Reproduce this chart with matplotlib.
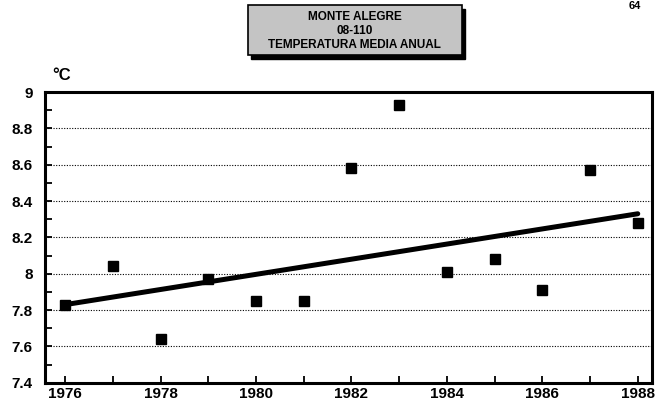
import matplotlib
matplotlib.use("Agg")
import matplotlib.pyplot as plt
from matplotlib.patches import Rectangle
from matplotlib.ticker import MultipleLocator, FormatStrFormatter

# data
years = [1976, 1977, 1978, 1979, 1980, 1981, 1982, 1983, 1984, 1985, 1986, 1987, 1988]
temps = [7.83, 8.04, 7.64, 7.97, 7.85, 7.85, 8.58, 8.93, 8.01, 8.08, 7.91, 8.57, 8.28]
trend_years = [1976, 1988]
trend_temps = [7.83, 8.33]
title_lines = ["MONTE ALEGRE", "08-110", "TEMPERATURA MEDIA ANUAL"]
xticks = [1976, 1978, 1980, 1982, 1984, 1986, 1988]
yticks = [7.4, 7.6, 7.8, 8.0, 8.2, 8.4, 8.6, 8.8, 9.0]

plt.rcParams['font.family'] = ['Liberation Sans', 'DejaVu Sans']

fig = plt.figure(figsize=(6.57, 4.0), dpi=100)
ax = fig.add_axes([0.0685, 0.043, 0.924, 0.727])

# dotted grid at the major y values
for v in yticks[1:-1]:
    ax.axhline(v, color="black", lw=0.8, ls=(0, (1, 1.4)), zorder=1)

ax.plot(trend_years, trend_temps, color="black", lw=3.6,
        solid_capstyle="round", zorder=2)
ax.plot(years, temps, "s", color="black", markersize=6.5, zorder=3)

ax.set_xlim(1975.58, 1988.3)
ax.set_ylim(7.4, 9.0)
ax.set_xticks(xticks)
ax.xaxis.set_minor_locator(MultipleLocator(1))
ax.set_yticks(yticks)
ax.yaxis.set_minor_locator(MultipleLocator(0.1))
ax.yaxis.set_major_formatter(FormatStrFormatter("%g"))

ax.tick_params(axis="both", which="both", direction="in", width=1.3, colors="black")
ax.tick_params(axis="both", which="both", length=5)
ax.tick_params(axis="y", which="major", pad=9)
ax.tick_params(axis="x", which="major", pad=3)
ax.tick_params(top=False, right=False, which="both")
for lab in ax.get_xticklabels() + ax.get_yticklabels():
    lab.set_fontweight("bold")
    lab.set_fontsize(11)

for s in ax.spines.values():
    s.set_linewidth(2.2)

fig.text(0.079, 0.812, "°C", fontsize=12, fontweight="bold", ha="left", va="center")
fig.text(0.975, 0.997, "64", fontsize=8, fontweight="bold", ha="right", va="top")

# title box with drop shadow
bx, by, bw, bh = 0.377, 0.862, 0.326, 0.126
fig.patches.append(Rectangle((bx + 0.005, by - 0.01), bw, bh, transform=fig.transFigure,
                             facecolor="black", edgecolor="black", zorder=0))
fig.patches.append(Rectangle((bx, by), bw, bh, transform=fig.transFigure,
                             facecolor="#c4c4c4", edgecolor="black", lw=1.2, zorder=1))
for i, line in enumerate(title_lines):
    fig.text(bx + bw / 2, 0.957 - i * 0.035, line, fontsize=8.5, fontweight="bold",
             ha="center", va="center", zorder=2)

fig.savefig("out.png", dpi=100, facecolor="white")
